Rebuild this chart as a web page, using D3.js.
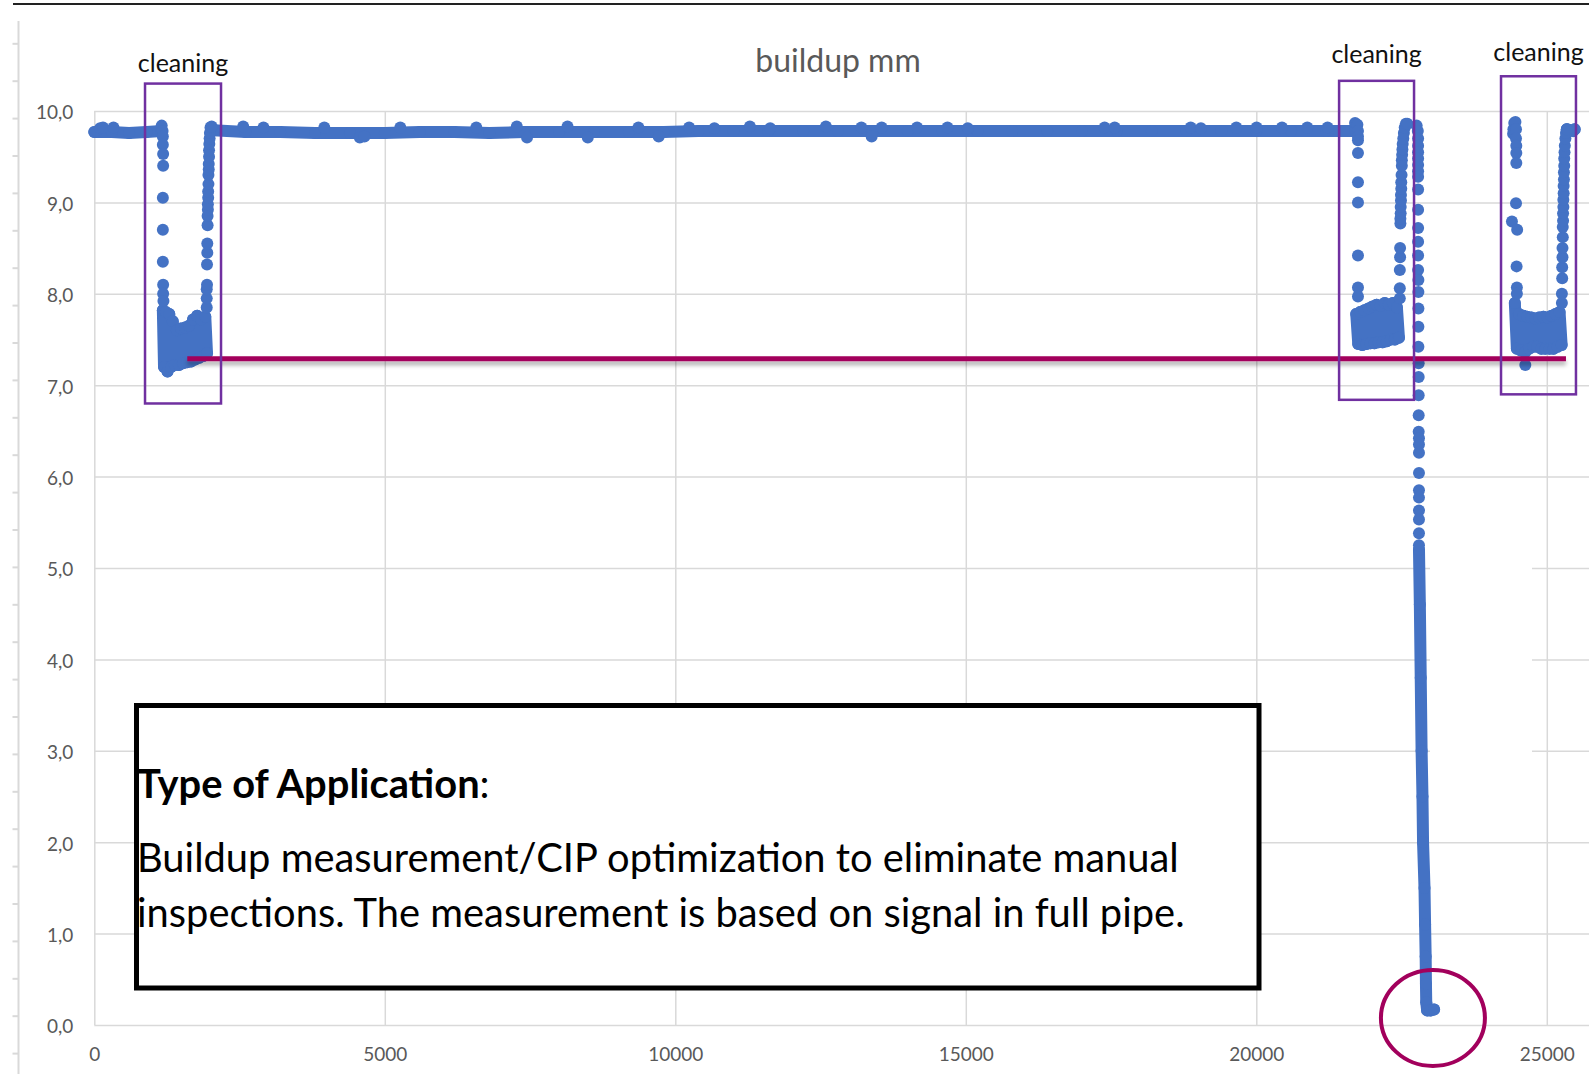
<!DOCTYPE html>
<html>
<head>
<meta charset="utf-8">
<script src="https://cdn.jsdelivr.net/npm/d3@7"></script>
<style>
  body { margin: 0; background: #fff; }
  svg { display: block; font-family: Lato, "Open Sans", sans-serif; }
</style>
</head>
<body>
<svg id="chart" width="1589" height="1074"></svg>
<script>
// axes
var xTicks = [0, 5000, 10000, 15000, 20000, 25000];
var xGrid = [0, 5000, 10000, 15000, 20000, 25000, 30000];
var yTicks = [0, 1, 2, 3, 4, 5, 6, 7, 8, 9, 10];

// buildup readings [sample, mm] - dense runs
var flatA = [[0,9.77],[300,9.77],[600,9.76],[900,9.77],[1150,9.78]];
var cluster1 = [[1180,7.82],[1200,7.2],[1230,7.8],[1260,7.15],[1290,7.78],[1320,7.2],[1350,7.7],[1385,7.22],[1420,7.6],[1455,7.22],[1490,7.62],[1525,7.24],[1560,7.63],[1595,7.25],[1630,7.65],[1665,7.26],[1700,7.72],[1735,7.28],[1770,7.76],[1805,7.3],[1840,7.72],[1875,7.32],[1910,7.75],[1940,7.35]];
var flatB = [[2050,9.79],[2600,9.77],[3200,9.77],[3800,9.76],[4400,9.76],[5000,9.76],[5600,9.77],[6200,9.77],[6800,9.76],[7400,9.77],[8000,9.77],[8600,9.77],[9200,9.77],[9800,9.77],[10400,9.78],[11000,9.78],[11600,9.78],[12200,9.78],[12800,9.78],[13400,9.78],[14000,9.78],[14600,9.78],[15200,9.78],[15800,9.78],[16400,9.78],[17000,9.78],[17600,9.78],[18200,9.78],[18800,9.78],[19400,9.78],[20000,9.78],[20600,9.78],[21200,9.78],[21700,9.78]];
var cluster2 = [[21720,7.78],[21755,7.45],[21790,7.8],[21825,7.44],[21860,7.82],[21895,7.45],[21930,7.84],[21965,7.46],[22000,7.86],[22035,7.46],[22070,7.88],[22105,7.47],[22140,7.87],[22175,7.47],[22210,7.9],[22245,7.48],[22280,7.88],[22315,7.5],[22350,7.9],[22385,7.5],[22420,7.85],[22455,7.52]];
var tail2 = [[22800,5.2],[22815,4.6],[22830,3.8],[22845,3.0],[22860,2.5],[22870,2.0],[22895,1.5],[22905,1.1],[22915,0.75],[22920,0.45],[22925,0.25],[22940,0.16],[23000,0.16],[23060,0.17]];
var cluster3 = [[24450,7.9],[24485,7.4],[24520,7.78],[24555,7.38],[24590,7.76],[24625,7.36],[24660,7.75],[24695,7.4],[24730,7.74],[24765,7.42],[24800,7.73],[24835,7.42],[24870,7.74],[24905,7.4],[24940,7.75],[24975,7.4],[25010,7.74],[25045,7.4],[25080,7.76],[25115,7.4],[25150,7.78],[25185,7.42],[25220,7.8],[25255,7.44]];
var flatC = [[25345,9.8],[25400,9.79],[25450,9.78],[25480,9.8]];

// buildup readings - separate points (noise, drops and rises)
var noise = [[100,9.81],[150,9.82],[330,9.82],[2563,9.83],[2912,9.82],[3959,9.82],[4570,9.71],[4650,9.72],[5267,9.82],[6575,9.82],[7272,9.83],[7448,9.71],[8145,9.83],[8494,9.71],[9365,9.82],[9714,9.72],[10238,9.82],[10673,9.81],[11284,9.83],[11633,9.81],[12592,9.83],[13203,9.82],[13380,9.72],[13552,9.82],[14162,9.82],[14685,9.82],[15034,9.81],[17389,9.82],[17563,9.82],[18871,9.82],[19046,9.81],[19656,9.82],[20005,9.82],[20442,9.82],[20878,9.82],[21227,9.82]];
var drop1 = [[1160,9.84],[1175,9.78],[1180,9.72],[1180,9.63],[1185,9.53],[1185,9.4],[1180,9.05],[1180,8.7],[1180,8.35],[1185,8.1],[1185,8.0],[1190,7.92]];
var rise1 = [[1935,7.85],[1935,7.95],[1935,8.05],[1940,8.1],[1940,8.32],[1945,8.45],[1945,8.55],[1950,8.75],[1950,8.85],[1955,8.92],[1955,8.98],[1960,9.05],[1960,9.12],[1965,9.2],[1965,9.3],[1970,9.36],[1970,9.42],[1975,9.5],[1975,9.57],[1980,9.64],[1985,9.7],[1990,9.76],[2000,9.82],[2020,9.83]];
var drop2 = [[21700,9.87],[21740,9.85],[21750,9.78],[21750,9.72],[21750,9.68],[21750,9.54],[21750,9.22],[21750,9.0],[21750,8.42],[21750,8.07],[21750,7.97]];
var rise2 = [[22470,7.95],[22470,8.06],[22470,8.26],[22475,8.4],[22475,8.5],[22480,8.77],[22480,8.82],[22485,8.88],[22485,8.95],[22490,9.02],[22490,9.08],[22495,9.15],[22495,9.22],[22500,9.3],[22505,9.4],[22505,9.46],[22510,9.52],[22515,9.58],[22520,9.64],[22530,9.7],[22540,9.76],[22555,9.82],[22575,9.86],[22600,9.86]];
var fall2 = [[22760,9.84],[22780,9.78],[22785,9.7],[22785,9.62],[22785,9.55],[22785,9.48],[22785,9.41],[22785,9.34],[22785,9.28],[22785,9.14],[22785,8.92],[22785,8.72],[22785,8.57],[22785,8.42],[22785,8.26],[22790,8.15],[22790,8.02],[22790,7.84],[22790,7.64],[22790,7.42],[22795,7.24],[22795,7.09],[22795,6.89],[22795,6.67],[22795,6.49],[22800,6.42],[22800,6.35],[22800,6.26],[22800,6.04],[22800,5.85],[22800,5.77],[22800,5.63],[22800,5.53],[22800,5.38],[22800,5.25]];
var drop3 = [[24420,9.75],[24425,9.8],[24440,9.87],[24460,9.88],[24470,9.8],[24470,9.7],[24475,9.62],[24475,9.54],[24475,9.43],[24470,8.99],[24400,8.79],[24490,8.7],[24480,8.3],[24485,8.07],[24485,8.0],[24630,7.22]];
var rise3 = [[25260,7.9],[25260,8.0],[25265,8.17],[25265,8.29],[25270,8.4],[25270,8.5],[25275,8.62],[25275,8.73],[25280,8.8],[25280,8.88],[25285,8.95],[25285,9.03],[25290,9.1],[25290,9.18],[25295,9.25],[25295,9.33],[25300,9.4],[25300,9.48],[25305,9.55],[25310,9.62],[25320,9.7],[25330,9.76],[25345,9.8]];

// annotations
var cleaningBoxes = [[873, 2181, 6.8, 10.3], [21425, 22715, 6.84, 10.33], [24212, 25502, 6.9, 10.38]];
var cleaningLabelY = [10.43, 10.52, 10.55];
var limitLine = [[1600, 7.29], [25330, 7.29]];
var emptyMark = [23040, 0.077];
var boxTitle = "Type of Application";
var boxLines = ["Buildup measurement/CIP optimization to eliminate manual",
                "inspections. The measurement is based on signal in full pipe."];

var blue = "#4472C4", magenta = "#A2005C", purple = "#7030A0", grey = "#595959", grid = "#D9D9D9";

var svg = d3.select("#chart");
var width = 1589, height = 1074;

var x = d3.scaleLinear().domain([0, 30000]).range([94.3, 1837.3]);
var y = d3.scaleLinear().domain([0, 10]).range([1025, 111]);

// drop shadow for the limit line
var defs = svg.append("defs");
defs.append("filter").attr("id", "shadow").attr("filterUnits", "userSpaceOnUse")
  .attr("x", 0).attr("y", 0).attr("width", width).attr("height", height)
  .append("feDropShadow").attr("dx", 0).attr("dy", 4).attr("stdDeviation", 2)
  .attr("flood-color", "#000").attr("flood-opacity", 0.3);

// page decoration: top rule and left ruler
svg.append("line").attr("x1", 13).attr("x2", width).attr("y1", 4).attr("y2", 4)
  .attr("stroke", "#222").attr("stroke-width", 2);
svg.append("line").attr("x1", 18.5).attr("x2", 18.5).attr("y1", 21).attr("y2", height)
  .attr("stroke", grid).attr("stroke-width", 2);
var ruler = d3.scaleLinear().domain([0, 27]).range([43.3, 43.3 + 27 * 37.4]);
svg.append("g").attr("transform", "translate(18.5,0)")
  .call(d3.axisLeft(ruler).ticks(27).tickSize(6).tickFormat(""))
  .call(g => g.select(".domain").remove())
  .call(g => g.selectAll("line").attr("stroke", grid).attr("stroke-width", 2));

// gridlines
svg.append("g").attr("transform", "translate(0," + y(0) + ")")
  .call(d3.axisBottom(x).tickValues(xGrid).tickSize(-(y(0) - y(10))).tickFormat(""))
  .call(g => g.select(".domain").remove())
  .call(g => g.selectAll("line").attr("stroke", grid).attr("stroke-width", 1.5));
svg.append("g").attr("transform", "translate(" + x(0) + ",0)")
  .call(d3.axisLeft(y).tickValues(yTicks).tickSize(-(x(30000) - x(0))).tickFormat(""))
  .call(g => g.select(".domain").remove())
  .call(g => g.selectAll("line").attr("stroke", grid).attr("stroke-width", 1.5));

// blank patch hiding part of the gridlines (as in the source slide)
svg.append("rect").attr("x", 1430).attr("y", 520).attr("width", 102).attr("height", 280).attr("fill", "#fff");

// tick labels
svg.append("g").attr("transform", "translate(" + x(0) + ",0)")
  .call(d3.axisLeft(y).tickValues(yTicks).tickSize(0).tickPadding(21)
    .tickFormat(d => d.toFixed(1).replace(".", ",")))
  .call(g => g.select(".domain").remove())
  .call(g => g.selectAll("text").attr("font-size", 19).attr("fill", grey).attr("dy", "0.42em")
    .attr("font-family", "Lato, sans-serif"));
svg.append("g").attr("transform", "translate(0," + y(0) + ")")
  .call(d3.axisBottom(x).tickValues(xTicks).tickSize(0).tickPadding(22.5).tickFormat(d3.format("d")))
  .call(g => g.select(".domain").remove())
  .call(g => g.selectAll("text").attr("font-size", 19).attr("fill", grey)
    .attr("font-family", "Lato, sans-serif"));

// title
svg.append("text").attr("x", 838).attr("y", 72).attr("text-anchor", "middle")
  .attr("font-size", 32).attr("fill", grey).text("buildup mm");

// data: dense runs drawn as thick strokes, every reading as a dot
var denseRuns = [flatA, cluster1, flatB, cluster2, tail2, cluster3, flatC];
var singles = [noise, drop1, rise1, drop2, rise2, fall2, drop3, rise3];
var line = d3.line().x(d => x(d[0])).y(d => y(d[1]));

svg.append("g").selectAll("path").data(denseRuns).join("path")
  .attr("d", line).attr("fill", "none").attr("stroke", blue).attr("stroke-width", 12)
  .attr("stroke-linejoin", "round").attr("stroke-linecap", "round");
svg.append("g").selectAll("circle").data(denseRuns.flat().concat(singles.flat())).join("circle")
  .attr("cx", d => x(d[0])).attr("cy", d => y(d[1])).attr("r", 6).attr("fill", blue);

// limit line
svg.append("path").attr("d", line(limitLine)).attr("stroke", magenta).attr("stroke-width", 5)
  .attr("fill", "none").attr("filter", "url(#shadow)");

// cleaning boxes + labels
svg.append("g").selectAll("rect").data(cleaningBoxes).join("rect")
  .attr("x", d => x(d[0])).attr("width", d => x(d[1]) - x(d[0]))
  .attr("y", d => y(d[3])).attr("height", d => y(d[2]) - y(d[3]))
  .attr("fill", "none").attr("stroke", purple).attr("stroke-width", 2.5);
svg.append("g").selectAll("text").data(cleaningBoxes).join("text")
  .attr("x", d => (x(d[0]) + x(d[1])) / 2).attr("y", (d, i) => y(cleaningLabelY[i]))
  .attr("text-anchor", "middle").attr("font-size", 25).attr("fill", "#111").text("cleaning");

// empty-pipe marker
svg.append("ellipse").attr("cx", x(emptyMark[0])).attr("cy", y(emptyMark[1]))
  .attr("rx", 52).attr("ry", 48).attr("fill", "none").attr("stroke", magenta).attr("stroke-width", 4);

// text box
svg.append("rect").attr("x", 136.5).attr("y", 705.5).attr("width", 1122.5).attr("height", 282.5)
  .attr("fill", "#fff").attr("stroke", "#000").attr("stroke-width", 5);
var t0 = svg.append("text").attr("x", 137).attr("y", 798).attr("fill", "#000").attr("font-size", 36);
t0.append("tspan").attr("font-weight", "bold").text(boxTitle);
t0.append("tspan").text(":");
var lines = svg.append("g").selectAll("text").data(boxLines).join("text")
  .attr("x", 137).attr("y", (d, i) => 872 + i * 55).attr("fill", "#000").attr("font-size", 36).text(d => d);

// fit the box text to the source width
var w = lines.nodes()[0].getComputedTextLength();
var fs = 36 * 1042 / w;
lines.attr("font-size", fs);
t0.attr("font-size", fs);
</script>
</body>
</html>
